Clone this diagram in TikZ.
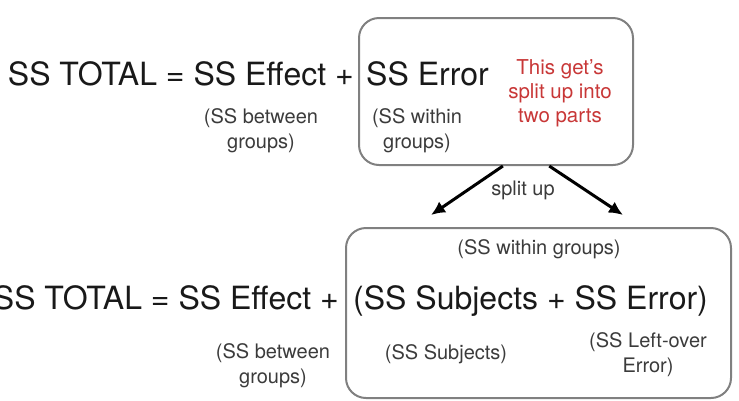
\documentclass[tikz,border=0pt]{standalone}
\usepackage{fontspec}
\setmainfont{TeX Gyre Heros}
\usepackage{xcolor}
\usepackage{tikz}
\usetikzlibrary{calc}
\usetikzlibrary{arrows.meta}
\definecolor{boxgray}{RGB}{128,128,128}
\definecolor{notered}{RGB}{200,55,55}
\definecolor{inkblack}{RGB}{25,25,25}

\begin{document}
\begin{tikzpicture}[x=1pt,y=-1pt,
        bigtxt/.style={font=\fontsize{32}{38}\selectfont,text=inkblack,inner sep=0pt},
        smalltxt/.style={font=\fontsize{20}{25}\selectfont,text=inkblack!85,inner sep=0pt,align=center},
        roundbox/.style={draw=boxgray,line width=2pt,rounded corners=20pt,inner sep=0pt}]
        \useasboundingbox (0,0) rectangle (739,400);
        % the two boxes
        \node[roundbox,minimum width=274pt,minimum height=147pt] (errbox) at (496,91.5) {};
        \node[roundbox,minimum width=385pt,minimum height=170pt] (splitbox) at (538.5,313) {};
        % first line
        \node[bigtxt,anchor=base east] (toplhs) at (354,85) {SS TOTAL = SS Effect +};
        \node[bigtxt,anchor=base west] (toperr) at (366,85) {SS Error};
        \node[smalltxt] (topbetween) at (261,131) {(SS between\\groups)};
        \node[smalltxt] (topwithin) at (417,131) {(SS within\\groups)};
        \node[smalltxt,text=notered,font=\fontsize{20.5}{24}\selectfont] (note) at (560,93) {This get's\\split up into\\two parts};
        % split up arrows
        \coordinate (subjtip) at (431,215);
        \coordinate (errtip) at (623,215);
        \draw[line width=3pt,-{Latex[length=14pt,width=13pt]}] ($(errbox.south west)!0.525!(errbox.south east)$) -- (subjtip);
        \draw[line width=3pt,-{Latex[length=14pt,width=13pt]}] ($(errbox.south west)!0.693!(errbox.south east)$) -- (errtip);
        \node[smalltxt] (splitlbl) at (523,190) {split up};
        % second line
        \node[smalltxt,anchor=base] (botwithin) at (539,254) {(SS within groups)};
        \node[bigtxt,anchor=base east] (botlhs) at (339,309) {SS TOTAL = SS Effect +};
        \node[bigtxt,anchor=base west] (botrhs) at (353,309) {(SS Subjects + SS Error)};
        \node[smalltxt] (botbetween) at (273,366) {(SS between\\groups)};
        \node[smalltxt] (botsubj) at (446,354) {(SS Subjects)};
        \node[smalltxt] (botleft) at (648,355) {(SS Left-over\\Error)};
\end{tikzpicture}
\end{document}
